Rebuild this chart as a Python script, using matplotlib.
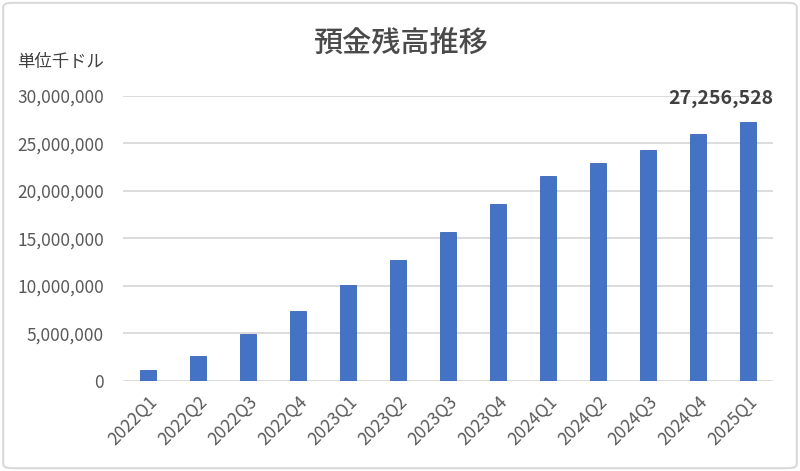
import matplotlib
matplotlib.use("Agg")
from matplotlib import pyplot as plt
from matplotlib.patches import FancyBboxPatch

plt.rcParams['font.family'] = ['Noto Sans CJK JP', 'DejaVu Sans']

quarters = ['2022Q1', '2022Q2', '2022Q3', '2022Q4', '2023Q1', '2023Q2', '2023Q3',
            '2023Q4', '2024Q1', '2024Q2', '2024Q3', '2024Q4', '2025Q1']
balance = [1120000, 2660000, 4970000, 7320000, 10050000, 12680000, 15620000,
           18560000, 21600000, 22870000, 24330000, 25980000, 27256528]
yticks = [0, 5000000, 10000000, 15000000, 20000000, 25000000, 30000000]

fig = plt.figure(figsize=(8, 4.71), dpi=100)
ax = fig.add_axes([0.154, 0.191, 0.812, 0.606])

x = list(range(len(quarters)))
ax.bar(x, balance, width=0.32, color='#4472C4', edgecolor='#3A66B8', linewidth=0.6, zorder=3)

ax.set_xlim(-0.5, len(quarters) - 0.5)
ax.set_ylim(0, 30000000)
ax.set_yticks(yticks)
ax.set_yticklabels([f'{v:,}' for v in yticks])
ax.set_xticks(x)
ax.set_xticklabels(quarters, rotation=45, ha='right', rotation_mode='anchor')
ax.tick_params(axis='y', length=0, pad=14, labelsize=12.5, labelcolor='#595959')
ax.tick_params(axis='x', length=0, pad=8, labelsize=12.5, labelcolor='#595959')
ax.grid(axis='y', color='#d9d9d9', linewidth=1.3, zorder=0)
for s in ax.spines.values():
    s.set_visible(False)

# label on the last bar
ax.text(x[-1] + 0.5, balance[-1] + 2450000, f'{balance[-1]:,}', ha='right', va='center',
        fontsize=14, fontweight='bold', color='#404040', clip_on=False)

fig.text(0.5, 0.908, '預金残高推移', ha='center', va='center', fontsize=21,
         fontweight='medium', color='#4a4a4a')
fig.text(0.021, 0.868, '単位千ドル', ha='left', va='center', fontsize=12.5, color='#404040')

frame = FancyBboxPatch((0.004, 0.006), 0.992, 0.988, boxstyle='round,pad=0,rounding_size=0.01',
                       transform=fig.transFigure, facecolor='none', edgecolor='#d9d9d9', linewidth=1.5)
fig.patches.append(frame)

fig.savefig('out.png', dpi=100)
